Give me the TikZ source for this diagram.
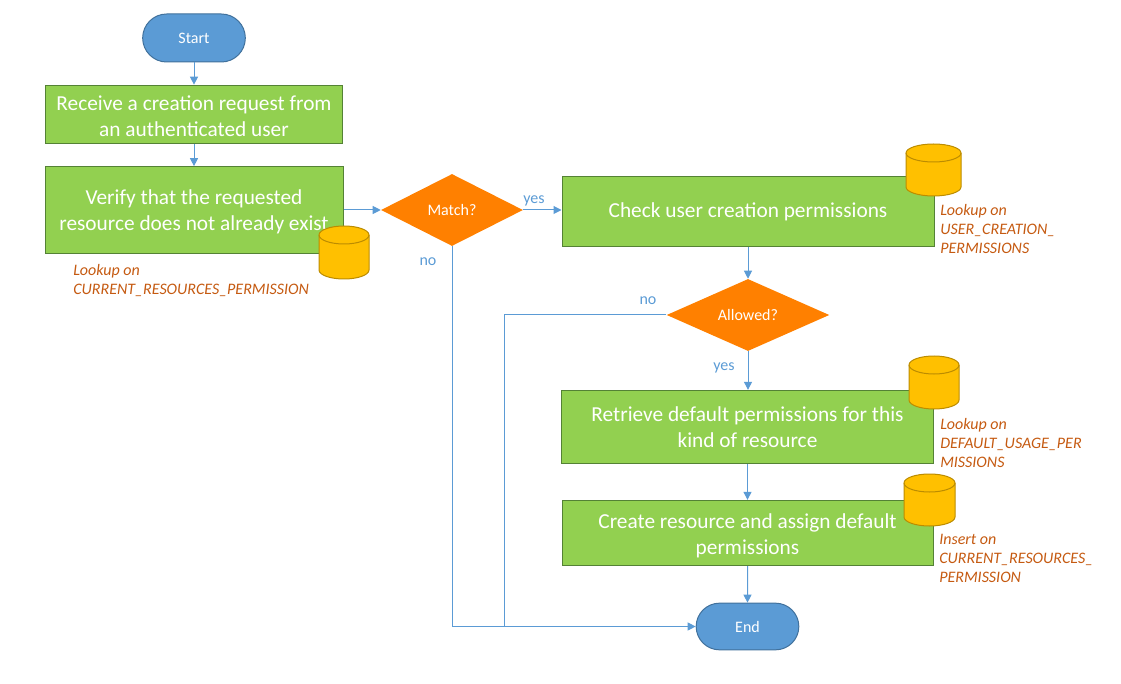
\documentclass[tikz,border=0pt]{standalone}
\usepackage{fontspec}
\setmainfont{Carlito}
\usetikzlibrary{shapes.geometric,shapes.misc,arrows.meta}
\definecolor{lineblue}{HTML}{5B9BD5}
\definecolor{termedge}{HTML}{41719C}
\definecolor{boxgreen}{HTML}{92D050}
\definecolor{boxedge}{HTML}{548235}
\definecolor{decorange}{HTML}{FF8000}
\definecolor{cylfill}{HTML}{FFC000}
\definecolor{cyledge}{HTML}{BC8C00}
\definecolor{notecol}{HTML}{C55A11}
\tikzset{
  x=0.75pt,y=-0.75pt,
  terminal/.style={rounded rectangle,draw=termedge,fill=lineblue,line width=0.75pt,text=white,font=\fontsize{12}{14}\selectfont,minimum width=77pt,minimum height=36pt,inner sep=0pt},
  stepbox/.style={rectangle,draw=boxedge,fill=boxgreen,line width=0.75pt,inner sep=0pt},
  steptext/.style={text=white,align=center,font=\fontsize{16}{19.5}\selectfont,inner sep=0pt},
  decision/.style={diamond,fill=decorange,text=white,font=\fontsize{12}{14}\selectfont,inner sep=0pt,draw=none},
  note/.style={anchor=north west,align=left,text=notecol,inner sep=0pt,font=\fontsize{12}{14.25}\selectfont\itshape},
  lab/.style={text=lineblue,inner sep=0pt,font=\fontsize{12}{14}\selectfont},
  conn/.style={draw=lineblue,line width=0.75pt,-{Triangle[length=6pt,width=6pt]}},
  connplain/.style={draw=lineblue,line width=0.75pt},
}
% centre x, top y, half width, bottom y
\newcommand{\dbdraw}[4]{%
  \fill[cylfill] (#1-#3,#2+9) arc[start angle=180,end angle=360,x radius=#3,y radius=9]
     -- (#1+#3,#4-9) arc[start angle=0,end angle=180,x radius=#3,y radius=9] -- cycle;
  \draw[draw=cyledge,line width=0.75pt] (#1-#3,#4-9) -- (#1-#3,#2+9)
     arc[start angle=180,end angle=360,x radius=#3,y radius=9]
     -- (#1+#3,#4-9) arc[start angle=0,end angle=180,x radius=#3,y radius=9];
  \draw[draw=cyledge,line width=0.75pt] (#1-#3,#2+9) arc[start angle=180,end angle=0,x radius=#3,y radius=9];
}
\begin{document}
\begin{tikzpicture}
\useasboundingbox (0,0) rectangle (1121,684);
\node[terminal] (start) at (194,38) {Start};
\node[stepbox,minimum width=222.5pt,minimum height=44pt] (recv) at (194,114.5) {};
\node[steptext] (recvt) at (194,116) {Receive a creation request from\\an authenticated user};
\node[stepbox,minimum width=223.5pt,minimum height=65pt] (verify) at (194,210) {};
\node[steptext] (verifyt) at (194,211.5) {Verify that the requested\\resource does not already exist};
\node[decision,minimum width=106.5pt,minimum height=54pt,aspect=1.97] (match) at (452,210) {Match?};
\node[stepbox,minimum width=279pt,minimum height=52.5pt] (check) at (748,211.5) {};
\node[steptext] (checkt) at (748,212) {Check user creation permissions};
\node[decision,minimum width=122pt,minimum height=54pt,aspect=2.26] (allowed) at (748,315) {Allowed?};
\node[stepbox,minimum width=279pt,minimum height=55pt] (retrieve) at (747.5,427) {};
\node[steptext] (retrievet) at (747.5,427) {Retrieve default permissions for this\\kind of resource};
\node[stepbox,minimum width=278.25pt,minimum height=49pt] (create) at (747.5,533) {};
\node[steptext] (createt) at (747.5,536) {Create resource and assign default\\permissions};
\node[terminal,minimum height=35pt] (end) at (747.5,626.5) {End};
\dbdraw{344}{226}{25}{279}
\dbdraw{933.5}{144}{27.5}{196}
\dbdraw{934}{356}{25}{409}
\dbdraw{929.5}{474}{25.5}{526}
\node[note] (notea) at (73,264) {Lookup on\\CURRENT\_RESOURCES\_PERMISSION};
\node[note] (noteb) at (940,204) {Lookup on\\USER\_CREATION\_\\PERMISSIONS};
\node[note] (notec) at (940,418) {Lookup on\\DEFAULT\_USAGE\_PER\\MISSIONS};
\node[note] (noted) at (939,534) {Insert on\\CURRENT\_RESOURCES\_\\PERMISSION};
\node[lab] (yesa) at (534,200.5) {yes};
\node[lab] (noa) at (428,262) {no};
\node[lab] (nob) at (648,301) {no};
\node[lab] (yesb) at (724,368) {yes};
\coordinate (joinpt) at (504,626.5);
\draw[conn] (start) -- (recv);
\draw[conn] (recv) -- (verify);
\draw[conn] (verify.east |- match.west) -- (match.west);
\draw[conn] (match.east) -- (check.west |- match.east);
\draw[conn] (check) -- (allowed);
\draw[conn] (allowed.south) -- (allowed.south |- retrieve.north);
\draw[conn] (retrieve) -- (create);
\draw[conn] (create) -- (end);
\draw[conn] (match.south) |- (end.west);
\draw[connplain] (allowed.west) -| (joinpt);
\end{tikzpicture}
\end{document}
